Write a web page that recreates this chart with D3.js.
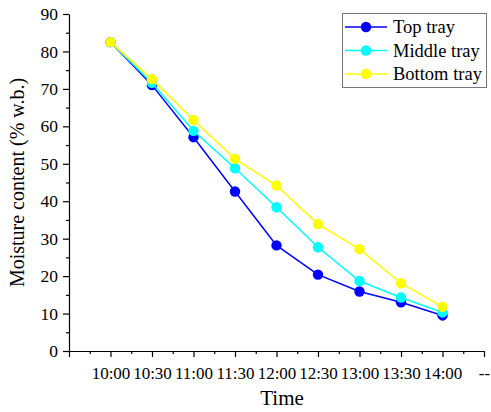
<!DOCTYPE html>
<html>
<head>
<meta charset="utf-8">
<script src="https://cdn.jsdelivr.net/npm/d3@7"></script>
<style>
  body { margin: 0; background: #fff; }
  svg { display: block; font-family: "Liberation Serif", "Times New Roman", serif; }
</style>
</head>
<body>
<script>
const times = ["10:00", "10:30", "11:00", "11:30", "12:00", "12:30", "13:00", "13:30", "14:00"];
const topTray = [82.5, 71.0, 57.1, 42.6, 28.2, 20.4, 15.9, 13.0, 9.5];
const middleTray = [82.5, 71.6, 58.8, 48.8, 38.4, 27.7, 18.7, 14.3, 10.3];
const bottomTray = [82.5, 72.6, 61.7, 51.3, 44.2, 33.9, 27.2, 18.1, 11.8];
const seriesNames = ["Top tray", "Middle tray", "Bottom tray"];
const yTicks = [0, 10, 20, 30, 40, 50, 60, 70, 80, 90];

const width = 491, height = 412;
const margin = { left: 69, right: 7, top: 14, bottom: 61 };
const colors = ["#0000ff", "#00ffff", "#ffff00"];
const serif = "'Liberation Serif', 'Times New Roman', serif";

const svg = d3.select("body").append("svg")
  .attr("width", width)
  .attr("height", height);

// x positions: index 0 is the axis origin, times sit at 1..9, "--" at 10
const x = d3.scaleLinear().domain([0, 10]).range([margin.left, width - margin.right]);
const y = d3.scaleLinear().domain([0, 90]).range([height - margin.bottom, margin.top]);

const xLabel = i => (i >= 1 && i <= times.length) ? times[i - 1] : (i === 10 ? "--" : "");

// minor ticks first
svg.append("g")
  .attr("transform", `translate(0,${y(0)})`)
  .call(d3.axisBottom(x).tickValues(d3.range(0.5, 10, 1)).tickSize(3).tickFormat(""))
  .call(g => g.select(".domain").remove());
svg.append("g")
  .attr("transform", `translate(${x(0)},0)`)
  .call(d3.axisLeft(y).tickValues(d3.range(5, 90, 10)).tickSize(3).tickFormat(""))
  .call(g => g.select(".domain").remove());

const xAxis = svg.append("g")
  .attr("transform", `translate(0,${y(0)})`)
  .call(d3.axisBottom(x).tickValues(d3.range(0, 11)).tickSize(6).tickSizeOuter(0).tickPadding(10).tickFormat(xLabel))
  .attr("font-family", serif)
  .attr("font-size", 17);
xAxis.selectAll("text").attr("fill", "#000");

const yAxis = svg.append("g")
  .attr("transform", `translate(${x(0)},0)`)
  .call(d3.axisLeft(y).tickValues(yTicks).tickSize(6).tickSizeOuter(0).tickPadding(5))
  .attr("font-family", serif)
  .attr("font-size", 17.5);
yAxis.selectAll("text").attr("fill", "#000");

svg.selectAll(".domain, .tick line").attr("stroke", "#000").attr("stroke-width", 1.2);

// axis titles
svg.append("text")
  .attr("x", 282)
  .attr("y", 405)
  .attr("text-anchor", "middle")
  .attr("font-size", 21)
  .text("Time");

svg.append("text")
  .attr("transform", `translate(24,${(y(0) + y(90)) / 2}) rotate(-90)`)
  .attr("text-anchor", "middle")
  .attr("font-size", 20)
  .text("Moisture content (% w.b.)");

// series
const allSeries = [topTray, middleTray, bottomTray];
const line = d3.line().x((d, i) => x(i + 1)).y(d => y(d));

allSeries.forEach((values, s) => {
  const g = svg.append("g");
  g.append("path")
    .datum(values)
    .attr("fill", "none")
    .attr("stroke", colors[s])
    .attr("stroke-width", 1.5)
    .attr("d", line);
  g.selectAll("circle")
    .data(values)
    .enter()
    .append("circle")
    .attr("cx", (d, i) => x(i + 1))
    .attr("cy", d => y(d))
    .attr("r", 5.2)
    .attr("fill", colors[s]);
});

// legend
const legend = svg.append("g").attr("transform", "translate(342,13)");
legend.append("rect")
  .attr("x", 0.5).attr("y", 0.5)
  .attr("width", 144).attr("height", 74)
  .attr("fill", "#fff")
  .attr("stroke", "#777")
  .attr("stroke-width", 1);

seriesNames.forEach((name, s) => {
  const ly = 14 + s * 23.5;
  legend.append("line")
    .attr("x1", 3).attr("x2", 45)
    .attr("y1", ly).attr("y2", ly)
    .attr("stroke", colors[s])
    .attr("stroke-width", 1.5);
  legend.append("circle")
    .attr("cx", 24).attr("cy", ly)
    .attr("r", 5.2)
    .attr("fill", colors[s]);
  legend.append("text")
    .attr("x", 51).attr("y", ly + 6)
    .attr("font-size", 18.5)
    .text(name);
});
</script>
</body>
</html>
